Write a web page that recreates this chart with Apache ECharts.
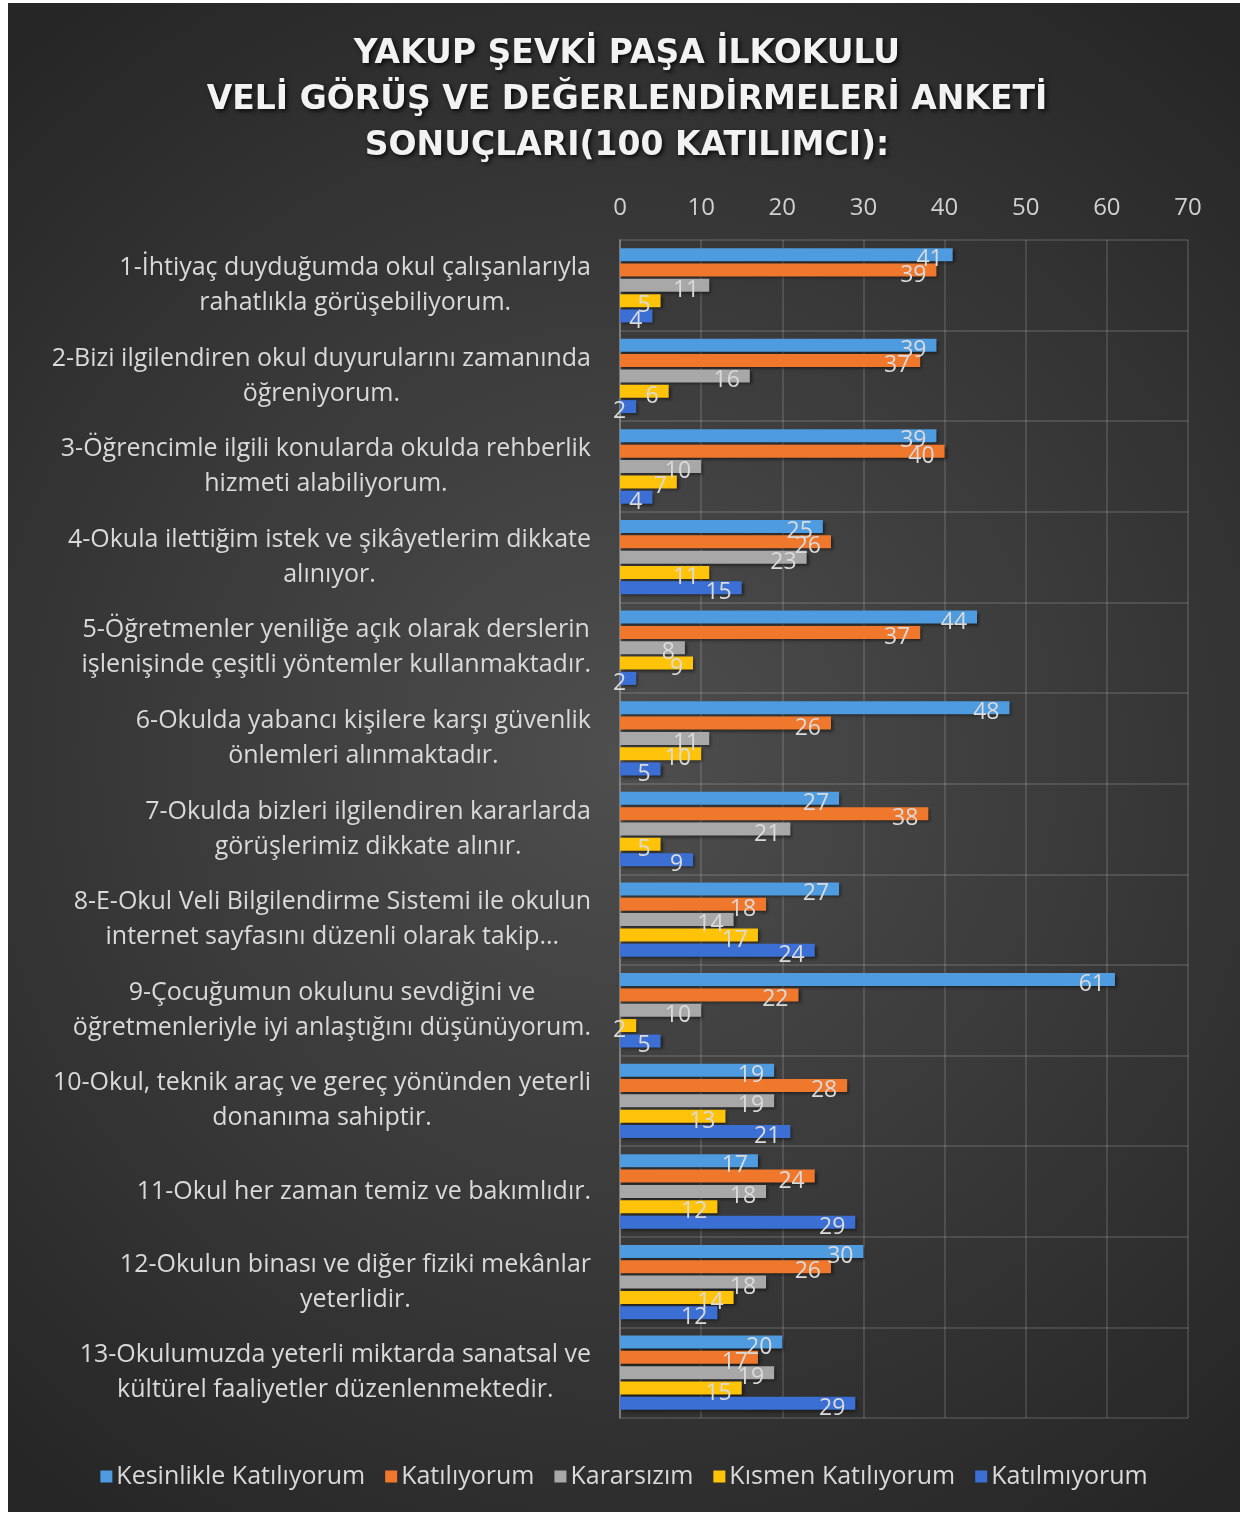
<!DOCTYPE html>
<html>
<head>
<meta charset="utf-8">
<script src="https://cdn.jsdelivr.net/npm/echarts@6/dist/echarts.min.js"></script>
<style>
  html, body { margin: 0; padding: 0; background: #ffffff; }
  #chart { position: absolute; left: 8px; top: 3px; width: 1232px; height: 1509px; }
</style>
</head>
<body>
<div id="chart"></div>
<script>
var questions = [
  '1-İhtiyaç duyduğumda okul çalışanlarıyla\nrahatlıkla görüşebiliyorum.',
  '2-Bizi ilgilendiren okul duyurularını zamanında\nöğreniyorum.',
  '3-Öğrencimle ilgili konularda okulda rehberlik\nhizmeti alabiliyorum.',
  '4-Okula ilettiğim istek ve şikâyetlerim dikkate\nalınıyor.',
  '5-Öğretmenler yeniliğe açık olarak derslerin\nişlenişinde çeşitli yöntemler kullanmaktadır.',
  '6-Okulda yabancı kişilere karşı güvenlik\nönlemleri alınmaktadır.',
  '7-Okulda bizleri ilgilendiren kararlarda\ngörüşlerimiz dikkate alınır.',
  '8-E-Okul Veli Bilgilendirme Sistemi ile okulun\ninternet sayfasını düzenli olarak takip...',
  '9-Çocuğumun okulunu sevdiğini ve\nöğretmenleriyle iyi anlaştığını düşünüyorum.',
  '10-Okul, teknik araç ve gereç yönünden yeterli\ndonanıma sahiptir.',
  '11-Okul her zaman temiz ve bakımlıdır.',
  '12-Okulun binası ve diğer fiziki mekânlar\nyeterlidir.',
  '13-Okulumuzda yeterli miktarda sanatsal ve\nkültürel faaliyetler düzenlenmektedir.'
];
var seriesNames = ['Kesinlikle Katılıyorum', 'Katılıyorum', 'Kararsızım', 'Kısmen Katılıyorum', 'Katılmıyorum'];
var kesinlikle = [41, 39, 39, 25, 44, 48, 27, 27, 61, 19, 17, 30, 20];
var katiliyorum = [39, 37, 40, 26, 37, 26, 38, 18, 22, 28, 24, 26, 17];
var kararsizim = [11, 16, 10, 23, 8, 11, 21, 14, 10, 19, 18, 18, 19];
var kismen = [5, 6, 7, 11, 9, 10, 5, 17, 2, 13, 12, 14, 15];
var katilmiyorum = [4, 2, 4, 15, 2, 5, 9, 24, 5, 21, 29, 12, 29];
var seriesColors = ['#4f9be0', '#f0782c', '#a8a8a8', '#ffc40a', '#3b6fd4'];

var dom = document.getElementById('chart');
var myChart = echarts.init(dom);
var font = '"Open Sans", "Noto Sans", sans-serif';

function makeSeries(i, data) {
  return {
    name: seriesNames[i],
    type: 'bar',
    data: data,
    barWidth: 13,
    barGap: '18%',
    itemStyle: {
      color: seriesColors[i],
      shadowColor: 'rgba(0,0,0,0.5)',
      shadowBlur: 3,
      shadowOffsetX: 2,
      shadowOffsetY: 2
    },
    label: {
      show: true,
      position: 'insideRight',
      distance: 10,
      offset: [0, 5],
      color: '#dadada',
      fontFamily: font,
      fontSize: 23
    }
  };
}

var option = {
  backgroundColor: {
    type: 'radial', x: 0.5, y: 0.5, r: 0.75,
    colorStops: [
      { offset: 0, color: '#4e4e4e' },
      { offset: 1, color: '#262626' }
    ]
  },
  textStyle: { fontFamily: font },
  title: {
    text: 'YAKUP ŞEVKİ PAŞA İLKOKULU\nVELİ GÖRÜŞ VE DEĞERLENDİRMELERİ ANKETİ\nSONUÇLARI(100 KATILIMCI):',
    left: 614,
    top: 23,
    textAlign: 'center',
    textStyle: {
      color: '#f2f2f2',
      fontFamily: '"DejaVu Sans", sans-serif',
      fontWeight: 'bold',
      fontSize: 33,
      lineHeight: 46,
      textShadowColor: 'rgba(0,0,0,0.8)',
      textShadowBlur: 4,
      textShadowOffsetX: 2,
      textShadowOffsetY: 2
    }
  },
  legend: {
    data: seriesNames,
    bottom: 18,
    left: 'center',
    itemWidth: 12,
    itemHeight: 12,
    itemGap: 20,
    icon: 'rect',
    textStyle: { color: '#d9d9d9', fontSize: 25, fontFamily: font, padding: [0, 0, 0, -1] }
  },
  grid: { left: 612, right: 52, top: 237, bottom: 94, containLabel: false },
  xAxis: {
    type: 'value',
    position: 'top',
    min: 0,
    max: 70,
    interval: 10,
    axisLine: { show: false },
    axisTick: { show: false },
    axisLabel: { color: '#d0d0d0', fontSize: 24, fontFamily: font, margin: 20 },
    splitLine: { show: true, lineStyle: { color: 'rgba(255,255,255,0.17)', width: 1.5 } }
  },
  yAxis: {
    type: 'category',
    inverse: true,
    data: questions,
    axisLine: { show: true, lineStyle: { color: '#8a8a8a', width: 1.5 } },
    axisTick: { show: false },
    splitLine: { show: true, lineStyle: { color: 'rgba(255,255,255,0.17)', width: 1.5 } },
    axisLabel: {
      margin: 29,
      align: 'right',
      formatter: function (v) { return '{a|' + v + '}'; },
      rich: {
        a: { color: '#d9d9d9', fontSize: 25, fontFamily: font, lineHeight: 35, align: 'center' }
      }
    }
  },
  series: [
    makeSeries(0, kesinlikle),
    makeSeries(1, katiliyorum),
    makeSeries(2, kararsizim),
    makeSeries(3, kismen),
    makeSeries(4, katilmiyorum)
  ]
};
if (option && typeof option === 'object') {
  myChart.setOption(option, true);
}
</script>
</body>
</html>
